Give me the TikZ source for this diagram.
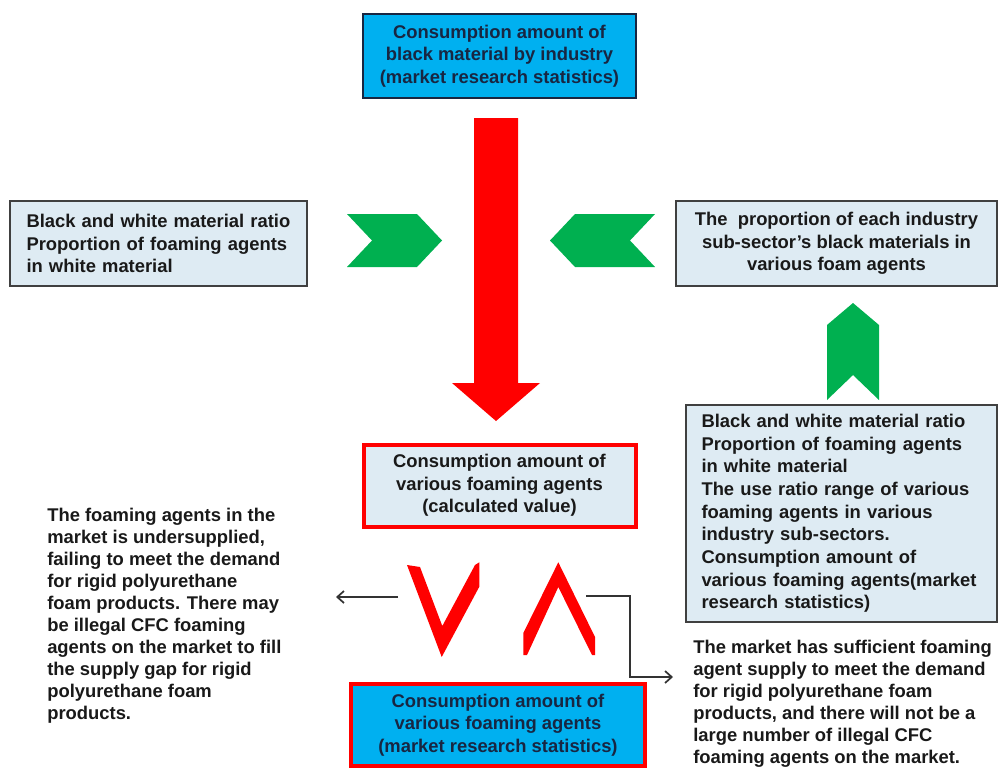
\documentclass[tikz,border=0pt]{standalone}
\usepackage{fontspec}
\setmainfont{Liberation Sans}
\usetikzlibrary{arrows.meta}
\definecolor{cyanfill}{RGB}{0,176,240}
\definecolor{palefill}{RGB}{222,235,243}
\definecolor{navytext}{RGB}{24,38,66}
\definecolor{boxline}{RGB}{64,64,64}
\definecolor{arrowgreen}{RGB}{0,176,80}
\definecolor{arrowred}{RGB}{255,0,0}
\tikzset{
	txt/.style={font=\fontsize{13.8}{16.9}\selectfont\bfseries, inner sep=0pt},
	databox/.style={txt, draw=navytext, line width=1.5pt, fill=cyanfill, text=navytext, align=center},
	infobox/.style={txt, draw=boxline, line width=1pt, fill=palefill, text=black!90},
	resultbox/.style={draw=arrowred, line width=3pt},
	note/.style={txt, align=left, text=black!90, font=\fontsize{13.8}{16.5}\selectfont\bfseries},
	flow/.style={draw=black!80, line width=1.3pt, -{Straight Barb[length=5pt,width=9pt]}},
}
\begin{document}
\begin{tikzpicture}[x=0.75pt, y=-0.75pt]
	\useasboundingbox (0,0) rectangle (999,768);
	% boxes
	\node[databox, minimum width=204.75pt, minimum height=63pt] (blackuse) at (499.5,56)
		{Consumption amount of\\black material by industry\\(market research statistics)};
	\node[infobox, minimum width=222.75pt, minimum height=63.75pt, text width=198pt, align=left] (ratioleft) at (158.5,243.5)
		{Black and white material ratio\\Proportion of foaming agents\\in white material};
	\node[infobox, minimum width=240.75pt, minimum height=63.75pt, align=center] (proportion) at (836.5,243.5)
		{The\ \ proportion of each industry\\sub-sector's black materials in\\various foam agents};
	\node[infobox, minimum width=233.25pt, minimum height=162.75pt, text width=210pt, align=left,
		font=\fontsize{13.8}{17}\selectfont\bfseries] (sources) at (841.5,513.5)
		{Black and white material ratio\\Proportion of foaming agents\\in white material\\The use ratio range of various\\foaming agents in various\\industry sub-sectors.\\Consumption amount of\\various foaming agents(market\\research statistics)};
	\node[infobox, resultbox, minimum width=204pt, minimum height=61.5pt, align=center] (calcuse) at (499.5,485.5)
		{Consumption amount of\\various foaming agents\\(calculated value)};
	\node[databox, resultbox, minimum width=220.5pt, minimum height=61.5pt] (marketuse) at (498,725)
		{Consumption amount of\\various foaming agents\\(market research statistics)};
	% notes
	\node[note, anchor=north west] (shortnote) at (47,508)
		{The foaming agents in the\\market is undersupplied,\\failing to meet the demand\\for rigid polyurethane\\foam products. There may\\be illegal CFC foaming\\agents on the market to fill\\the supply gap for rigid\\polyurethane foam\\products.};
	\node[note, anchor=north west] (enoughnote) at (693,640)
		{The market has sufficient foaming\\agent supply to meet the demand\\for rigid polyurethane foam\\products, and there will not be a\\large number of illegal CFC\\foaming agents on the market.};
	% big arrows
	\fill[arrowred] (474,118) -- (518,118) -- (518,383) -- (540,383) -- (496,421) -- (452,383) -- (474,383) -- cycle;
	\fill[arrowgreen] (347,214) -- (417,214) -- (442,240.5) -- (417,267) -- (347,267) -- (372,240.5) -- cycle;
	\fill[arrowgreen] (655,214) -- (575,214) -- (550,240.5) -- (575,267) -- (655,267) -- (630,240.5) -- cycle;
	\fill[arrowgreen] (853,303) -- (879,325) -- (879,400) -- (853,375) -- (827,400) -- (827,325) -- cycle;
	% less / more
	\fill[arrowred] (407,565) -- (441.7,657) -- (479.3,586.7) -- (479.3,562.3) -- (475,565) -- (442.3,626) -- (420,567) -- cycle;
	\fill[arrowred] (523.3,655) -- (523.3,633) -- (558.3,562.3) -- (595,637) -- (595,655) -- (592,655) -- (558.3,587) -- (527,655) -- cycle;
	% connectors
	\coordinate (lessend) at (398,597);
	\coordinate (shorttip) at (336,597);
	\coordinate (moreend) at (586,596);
	\coordinate (bend) at (630,636);
	\coordinate (enoughtip) at (673,677);
	\draw[flow] (lessend) -- (shorttip);
	\draw[flow] (moreend) -| (bend) |- (enoughtip);
\end{tikzpicture}
\end{document}
